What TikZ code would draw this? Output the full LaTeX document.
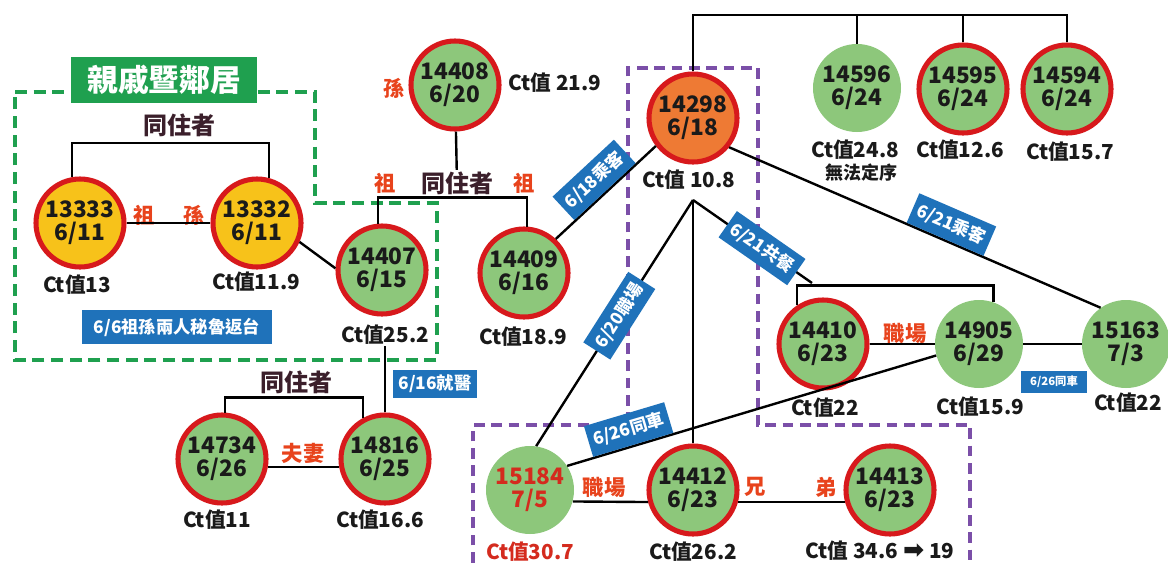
\documentclass[tikz,border=0pt]{standalone}
\usepackage{fontspec}
\setmainfont{Noto Sans CJK TC}
\newfontfamily\symfont{DejaVu Sans}
\usepackage{xcolor}
\usepackage{tikz}
\definecolor{casegreen}{HTML}{8DC77B}
\definecolor{ringred}{HTML}{D7191C}
\definecolor{caseyellow}{HTML}{F7C21A}
\definecolor{caseorange}{HTML}{EE7A34}
\definecolor{tagblue}{HTML}{1F72BA}
\definecolor{titlegreen}{HTML}{1FA04F}
\definecolor{relred}{HTML}{E8431C}
\definecolor{alertred}{HTML}{D42B1E}
\definecolor{darkplum}{HTML}{3B1F2B}
\definecolor{inkdark}{HTML}{1A1A1A}
\definecolor{dashpurple}{HTML}{7B4FA8}
\tikzset{
  numcircle/.style={circle, minimum size=66pt, inner sep=0pt, align=center, fill=casegreen, text=inkdark,
    font=\fontsize{17}{17}\selectfont\bfseries},
  greenring/.style={numcircle, draw=ringred, line width=3.8pt},
  greenplain/.style={numcircle},
  yellowring/.style={greenring, fill=caseyellow},
  orangering/.style={greenring, fill=caseorange},
  ctlabel/.style={inner sep=1pt, text=inkdark, font=\fontsize{15.5}{16}\selectfont\bfseries},
  relation/.style={inner sep=1pt, text=relred, font=\fontsize{16}{16}\selectfont\bfseries},
  cohab/.style={inner sep=1pt, text=darkplum, font=\fontsize{18}{18}\selectfont\bfseries},
  tag/.style={fill=tagblue, text=white, inner xsep=4pt, inner ysep=2pt, minimum height=24pt,
    font=\fontsize{13}{13}\selectfont\bfseries},
  smalltag/.style={tag, minimum height=17pt, minimum width=49pt, inner xsep=2pt,
    font=\fontsize{8.5}{8.5}\selectfont\bfseries},
  title/.style={fill=titlegreen, text=white, minimum width=139pt, minimum height=34.5pt,
    font=\fontsize{23}{23}\selectfont\bfseries},
  link/.style={draw=black, line width=1.8pt},
  greendash/.style={draw=titlegreen, line width=2.4pt, dash pattern=on 9pt off 5pt},
  purpledash/.style={draw=dashpurple, line width=2.4pt, dash pattern=on 8pt off 5pt}
}
\begin{document}
\begin{tikzpicture}[x=0.75pt, y=-0.75pt]
  \useasboundingbox (0,0) rectangle (1168,565);
  \clip (0,0) rectangle (1168,565);
  \fill[white] (0,0) rectangle (1168,565);

  % Dashed groupings
  \draw[greendash] (15,92) -- (315,92) -- (315,203) -- (437,203) -- (437,360) -- (15,360) -- cycle;
  \draw[purpledash] (473,580) -- (473,425) -- (628,425) -- (628,68) -- (758,68) -- (758,425) -- (970,425) -- (970,580);

  % Cases: id / position / onset date
  \foreach \id/\x/\y/\m/\d/\kind in {13333/80/223/6/11/yellowring, 13332/257/223/6/11/yellowring,
      14407/382/270/6/15/greenring, 14408/455/85/6/20/greenring, 14409/524/273/6/16/greenring,
      14298/693/118/6/18/orangering, 14596/857/88/6/24/greenplain, 14595/963/89/6/24/greenring,
      14594/1067/89/6/24/greenring, 14410/823/344/6/23/greenring, 14905/979/344/6/29/greenplain,
      15163/1126/344/7/3/greenplain, 14734/222/459/6/26/greenring, 14816/385/459/6/25/greenring,
      14412/693/490/6/23/greenring, 14413/890/490/6/23/greenring} {
    \node[\kind] (n\id) at (\x,\y) {\id\\\m/\d};
  }
  \node[greenplain, text=alertred] (n15184) at (530,490) {15184\\7/5};

  % Ct values
  \foreach \id/\x/\y/\txt in {13333/77/285/Ct值13, 13332/256/282/Ct值11.9, 14407/385/335/Ct值25.2,
      14408/555/83/Ct值 21.9, 14409/523/337/Ct值18.9, 14298/689/180/Ct值 10.8, 14596/855/150/Ct值24.8,
      14595/960/150/Ct值12.6, 14594/1070/152/Ct值15.7, 14410/825/408/Ct值22, 14905/980/407/Ct值15.9,
      15163/1128/403/Ct值22, 14734/217/520/Ct值11, 14816/380/520/Ct值16.6, 14412/693/552/Ct值26.2} {
    \node[ctlabel] (ct\id) at (\x,\y) {\txt};
  }
  \node[ctlabel, font=\fontsize{13.5}{14}\selectfont\bfseries] (note14596) at (861,173) {無法定序};
  \node[ctlabel, text=alertred] (ct15184) at (530,552) {Ct值30.7};
  \node[ctlabel] (ct14413) at (880,551) {Ct值 34.6 {\symfont\fontsize{19}{16}\selectfont ➡} 19};

  % Relations
  \foreach \x/\y/\txt [count=\i] in {144/215/祖, 194/215/孫, 394/88/孫, 385/183/祖, 524/183/祖,
      905/333/職場, 604/487/職場, 755/487/兄, 826/487/弟, 303/453/夫妻} {
    \node[relation] (rel\i) at (\x,\y) {\txt};
  }
  \node[cohab] (live1) at (179,125) {同住者};
  \node[cohab] (live2) at (457,183) {同住者};
  \node[cohab] (live3) at (296,382) {同住者};

  % Household links
  \draw[link] (n13333.100) -- ++(0,-34) -| (n13332.75);
  \draw[link] (n13333) -- (n13332);
  \draw[link] (n13332.336) -- (n14407.178);
  \draw[link] (n14408) -- (live2);
  \draw[link] (n14407.95) -- ++(0,-26) -| (n14409.86);
  \draw[link] (n14816.north) -- (n14816.north |- ct14407.south);
  \draw[link] (n14734.86) -- ++(0,-15) -| (n14816.118);
  \draw[link] (n14734.-10) -- (n14816.190);

  % Top family bar
  \coordinate (bar) at (880,15);
  \draw[link] (n14298.north) |- (bar) -| (n14594.north);
  \draw[link] (n14596.north) -- (n14596.north |- bar);
  \draw[link] (n14595.north) -- (n14595.north |- bar);

  % Contacts of 14298
  \coordinate (apex) at (693,200);
  \coordinate (meal) at (812,283);
  \draw[link] (n14409.47) -- node[tag, sloped, above] (t618) {6/18乘客} (n14298.217);
  \draw[link] (n14298.321) -- node[tag, sloped, above, pos=0.58] (t621a) {6/21乘客} (n15163.125);
  \draw[link] (n14410.124) -- ++(0,-20) -| (n14905.71);
  \draw[link] (apex) -- node[tag, sloped, pos=0.58] (t621b) {6/21共餐} (meal);
  \draw[link] (apex) -- node[tag, sloped, pos=0.47] (t620) {6/20職場} (n15184.82);
  \draw[link] (apex) -- (n14412.north);
  \draw[link] (n15184.33) -- node[tag, sloped, above, pos=0.18] (t626) {6/26同車} (n14905.195);
  \draw[link] (n14410) -- (n14905);
  \draw[link] (n14905) -- (n15163);
  \draw[link] (n15184.-15) -- (n14412.195);
  \draw[link] (n14412.-15) -- (n14413.195);

  % Boxed notes
  \node[title] (kin) at (164,80) {親戚暨鄰居};
  \node[tag, minimum width=143pt, minimum height=26pt] (tagperu) at (177,327) {6/6祖孫兩人秘魯返台};
  \node[tag, minimum height=21pt, anchor=west] (tagclinic) at (393,384) {6/16就醫};
  \node[smalltag] (tagcar) at (1054,382) {6/26同車};
\end{tikzpicture}
\end{document}
